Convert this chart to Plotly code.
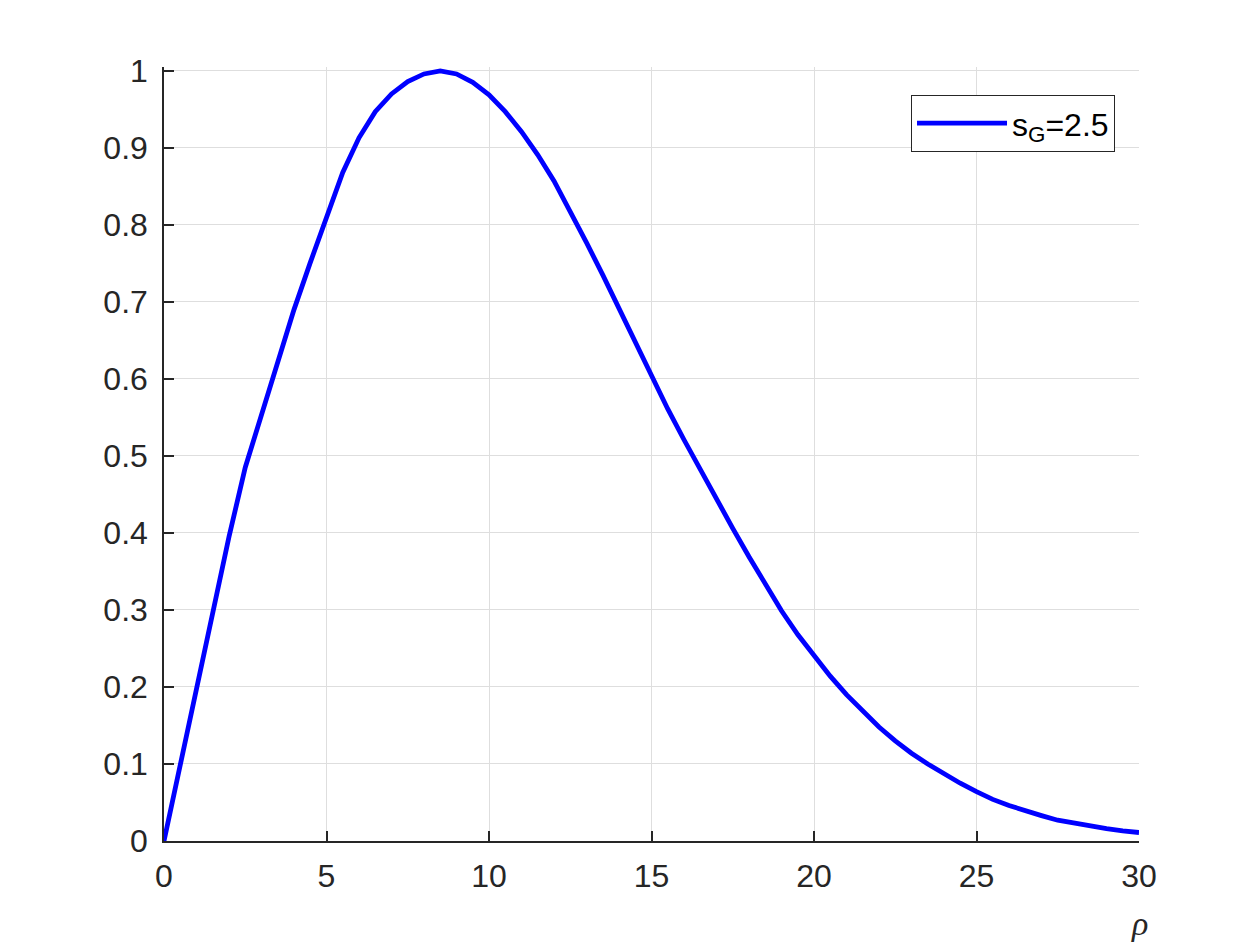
import plotly.graph_objects as go

# values
rho = [0, 0.5, 1.0, 1.5, 2.0, 2.5, 3.0, 3.5, 4.0, 4.5, 5.0, 5.5, 6.0, 6.5, 7.0, 7.5,
       8.0, 8.5, 9.0, 9.5, 10.0, 10.5, 11.0, 11.5, 12.0, 12.5, 13.0, 13.5, 14.0, 14.5,
       15.0, 15.5, 16.0, 16.5, 17.0, 17.5, 18.0, 18.5, 19.0, 19.5, 20.0, 20.5, 21.0,
       21.5, 22.0, 22.5, 23.0, 23.5, 24.0, 24.5, 25.0, 25.5, 26.0, 26.5, 27.0, 27.5,
       28.0, 28.5, 29.0, 29.5, 30.0]
amplitude = [0, 0.100, 0.197, 0.296, 0.395, 0.485, 0.555, 0.624, 0.690, 0.751, 0.810,
             0.868, 0.913, 0.947, 0.970, 0.986, 0.996, 1.000, 0.996, 0.985, 0.969,
             0.947, 0.921, 0.891, 0.857, 0.818, 0.777, 0.735, 0.691, 0.647, 0.603,
             0.561, 0.521, 0.482, 0.443, 0.406, 0.369, 0.333, 0.299, 0.268, 0.240,
             0.214, 0.190, 0.168, 0.148, 0.130, 0.114, 0.100, 0.087, 0.075, 0.064,
             0.054, 0.046, 0.039, 0.033, 0.027, 0.023, 0.019, 0.016, 0.013, 0.011]
series_name = "s<sub>G</sub>=2.5"

x_ticks = [0, 5, 10, 15, 20, 25, 30]
y_ticks = [0, 0.1, 0.2, 0.3, 0.4, 0.5, 0.6, 0.7, 0.8, 0.9, 1]
y_tick_text = ["0", "0.1", "0.2", "0.3", "0.4", "0.5", "0.6", "0.7", "0.8", "0.9", "1"]

ink = "#262626"
grid = "#dedede"

fig = go.Figure(go.Scatter(
    x=rho,
    y=amplitude,
    mode="lines",
    name=series_name,
    line=dict(color="#0000ff", width=4.8),
    showlegend=True,
))

fig.update_layout(
    width=1260,
    height=945,
    paper_bgcolor="white",
    plot_bgcolor="white",
    font=dict(family="Liberation Sans, Arial, sans-serif", color=ink, size=32),
    margin=dict(l=164, r=121, t=67, b=104),
    showlegend=True,
    legend=dict(
        x=0.9754, y=0.964, xanchor="right", yanchor="top",
        bordercolor=ink, borderwidth=1, bgcolor="white",
        font=dict(size=32, color="black"),
        itemwidth=90,
    ),
    xaxis=dict(
        range=[0, 30],
        tickvals=x_ticks,
        ticks="inside", ticklen=10, tickcolor=ink, tickwidth=1.5,
        showline=True, linecolor=ink, linewidth=1.5, mirror=False,
        showgrid=True, gridcolor=grid, gridwidth=1,
        zeroline=False,
        ticklabelstandoff=6,
    ),
    yaxis=dict(
        range=[0, 1.005],
        tickvals=y_ticks, ticktext=y_tick_text,
        ticks="inside", ticklen=10, tickcolor=ink, tickwidth=1.5,
        showline=True, linecolor=ink, linewidth=1.5, mirror=False,
        showgrid=True, gridcolor=grid, gridwidth=1,
        zeroline=False,
        ticklabelstandoff=8,
    ),
)

# x label sits under the right end of the axis, as in the source figure
fig.add_annotation(
    text="<i>ρ</i>", x=1, y=0, xref="paper", yref="paper",
    xanchor="center", yanchor="top", yshift=-62, showarrow=False,
    font=dict(family="Liberation Serif, Times New Roman, serif", size=34, color=ink),
)

# drop the default page margin so the figure sits at the window's corner
fig.write_html(
    "out.html",
    config={"displayModeBar": False},
    post_script="document.body.style.margin='0';",
)
